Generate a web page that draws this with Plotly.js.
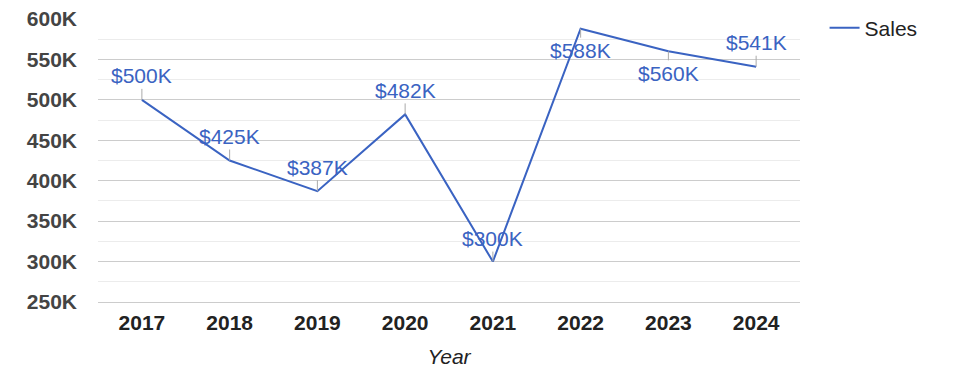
<!DOCTYPE html>
<html><head><meta charset="utf-8">
<script src="https://cdn.plot.ly/plotly-3.0.1.min.js"></script>
<style>html,body{margin:0;padding:0;background:#fff}#chart{width:975px;height:378px}</style>
</head><body><div id="chart"></div>
<script>
const years = ['2017','2018','2019','2020','2021','2022','2023','2024'];
const sales = [500000, 425000, 387000, 482000, 300000, 588000, 560000, 541000];
const salesLabels = ['$500K','$425K','$387K','$482K','$300K','$588K','$560K','$541K'];
const yTickVals = [250000,300000,350000,400000,450000,500000,550000,600000];
const yTickText = ['250K','300K','350K','400K','450K','500K','550K','600K'];
const labelOffsets = [-24,-24,-24,-24,-23,22,22,-24]; // pixel offset of each data label

const FONT = 'Liberation Sans, Arial, sans-serif';
const BLUE = '#3a63c2';

// on a category axis, annotation x is given as the category index
const annotations = years.map((yr,i)=>({
  x: years.indexOf(yr), y: sales[i], xref:'x', yref:'y',
  text: salesLabels[i], showarrow:true, arrowhead:0, arrowwidth:1,
  arrowcolor:'#aaaaaa', ax:0, ay: labelOffsets[i],
  font:{family:FONT, size:21, color:BLUE}
}));

Plotly.newPlot('chart', [{
  type:'scatter', mode:'lines', name:'Sales',
  x: years, y: sales,
  line:{color:BLUE, width:2}
}], {
  width:975, height:378,
  margin:{l:98, r:175, t:19, b:76, autoexpand:false},
  paper_bgcolor:'#fff', plot_bgcolor:'#fff',
  font:{family:FONT, color:'#222'},
  showlegend:true,
  legend:{x:1.035, y:1.04, xanchor:'left', yanchor:'top', font:{family:FONT, size:21, color:'#222'}},
  xaxis:{type:'category', range:[-0.5,7.5], showgrid:false, zeroline:false,
    showline:true, linecolor:'#cccccc', linewidth:1,
    ticks:'', ticklabelstandoff:2,
    tickfont:{family:FONT, size:21, color:'#222', weight:'bold'},
    title:{text:'Year', font:{family:FONT, size:21, color:'#222', style:'italic'}, standoff:16}},
  yaxis:{range:[250000,600000], tickvals:yTickVals, ticktext:yTickText,
    showgrid:true, gridcolor:'#cccccc', gridwidth:1, zeroline:false, showline:false,
    ticks:'', ticklabelstandoff:20,
    tickfont:{family:FONT, size:21, color:'#444', weight:'bold'},
    minor:{dtick:25000, tick0:250000, showgrid:true, gridcolor:'#ececec', gridwidth:1}},
  annotations: annotations
}, {displayModeBar:false});
</script></body></html>
